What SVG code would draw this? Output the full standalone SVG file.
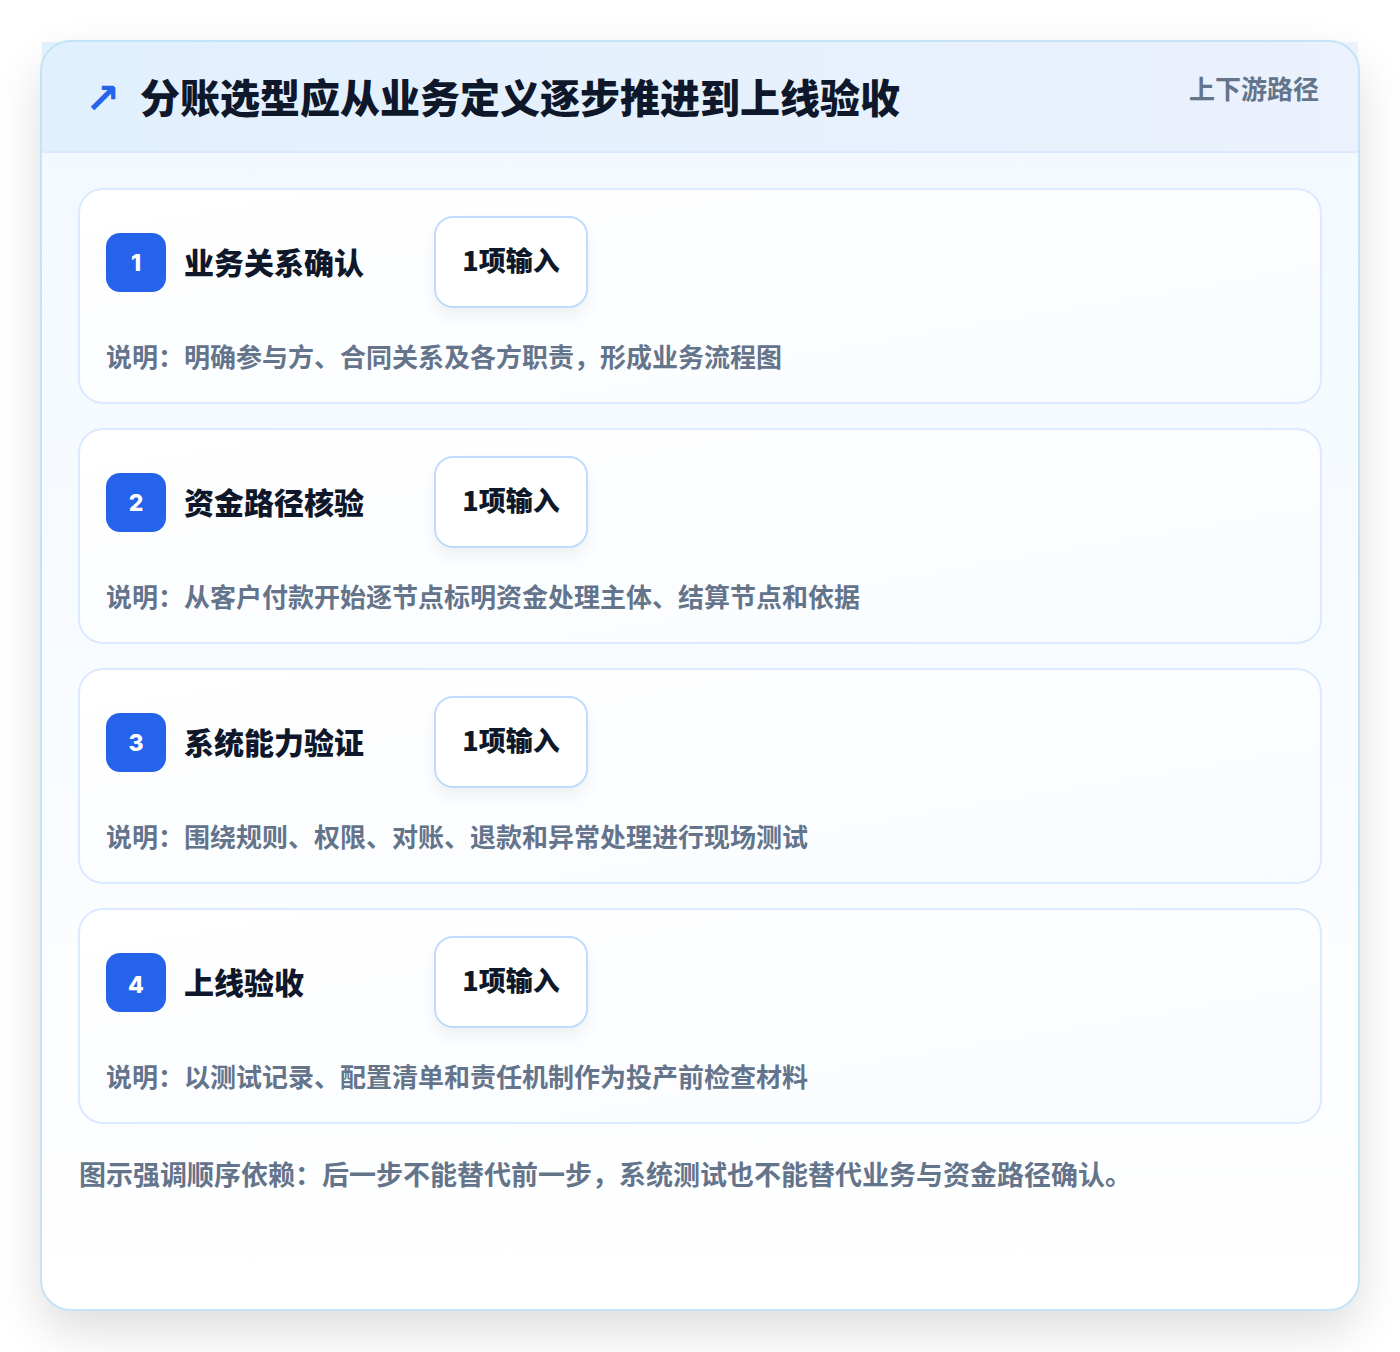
<svg xmlns="http://www.w3.org/2000/svg" width="1400" height="1352" viewBox="0 0 1400 1352">
<defs>
<style>
.t{font-family:"Noto Sans CJK SC","Noto Sans",sans-serif;font-weight:700}
.title{font-size:40px;fill:#0f172a;font-weight:900}
.tag{font-size:26px;fill:#64748b}
.stitle{font-size:30px;fill:#0f172a;font-weight:900}
.pilltxt{font-size:27px;fill:#0f172a;font-weight:900}
.desc{font-size:26px;fill:#64748b}
.foot{font-size:27px;fill:#64748b}
.num{font-family:Inter,"Liberation Sans",sans-serif;font-weight:800;font-size:23px;fill:#ffffff}
.step{fill:url(#stepg);stroke:#dbeafe;stroke-width:2}
.badge{fill:#2563eb}
.pill{fill:#ffffff;stroke:#bfdbfe;stroke-width:2}
</style>
<linearGradient id="hdr" x1="0" y1="0" x2="1" y2="0">
<stop offset="0" stop-color="#e1f0fd"/>
<stop offset="1" stop-color="#ebf1fd"/>
</linearGradient>
<linearGradient id="body" x1="0" y1="0" x2="0" y2="1">
<stop offset="0" stop-color="#f1f8ff"/>
<stop offset="1" stop-color="#ffffff"/>
</linearGradient>
<linearGradient id="stepg" x1="0" y1="0" x2="1" y2="1">
<stop offset="0" stop-color="#ffffff"/>
<stop offset="1" stop-color="#f9fcff"/>
</linearGradient>
<filter id="cardsh" x="-10%" y="-10%" width="120%" height="125%">
<feGaussianBlur in="SourceAlpha" stdDeviation="24"/>
<feOffset dy="20"/>
<feComponentTransfer><feFuncA type="linear" slope="0.14"/></feComponentTransfer>
<feMerge><feMergeNode/><feMergeNode in="SourceGraphic"/></feMerge>
</filter>
<filter id="pillsh" x="-30%" y="-30%" width="160%" height="180%">
<feGaussianBlur in="SourceAlpha" stdDeviation="8"/>
<feOffset dy="8"/>
<feComponentTransfer><feFuncA type="linear" slope="0.06"/></feComponentTransfer>
<feMerge><feMergeNode/><feMergeNode in="SourceGraphic"/></feMerge>
</filter>
</defs>
<rect width="1400" height="1352" fill="#ffffff"/>

<g id="card">
<rect x="41" y="41" width="1318" height="1269" rx="30" fill="url(#body)" filter="url(#cardsh)"/>
<rect x="42" y="42" width="1316" height="110" fill="url(#hdr)"/>
<line x1="42" y1="152" x2="1358" y2="152" stroke="#dbeafe" stroke-width="2"/>
<rect x="41" y="41" width="1318" height="1269" rx="30" fill="none" stroke="#c3e4f7" stroke-width="2"/>
</g>

<g id="header">
<text x="85" y="113" font-family="'DejaVu Sans',sans-serif" font-size="42" font-weight="700" fill="#2563eb">↗</text>
<text class="t title" x="140" y="113">分账选型应从业务定义逐步推进到上线验收</text>
<text class="t tag" x="1319" y="99" text-anchor="end">上下游路径</text>
</g>

<g id="step1">
<rect class="step" x="79" y="189" width="1242" height="214" rx="24"/>
<rect class="badge" x="106" y="233" width="60" height="59" rx="14"/>
<text class="num" x="136" y="271" text-anchor="middle">1</text>
<text class="t stitle" x="184" y="274">业务关系确认</text>
<rect class="pill" x="435" y="217" width="152" height="90" rx="18" filter="url(#pillsh)"/>
<text class="t pilltxt" x="511" y="271" text-anchor="middle">1项输入</text>
<text class="t desc" x="106" y="367">说明：明确参与方、合同关系及各方职责，形成业务流程图</text>
</g>

<g id="step2">
<rect class="step" x="79" y="429" width="1242" height="214" rx="24"/>
<rect class="badge" x="106" y="473" width="60" height="59" rx="14"/>
<text class="num" x="136" y="511" text-anchor="middle">2</text>
<text class="t stitle" x="184" y="514">资金路径核验</text>
<rect class="pill" x="435" y="457" width="152" height="90" rx="18" filter="url(#pillsh)"/>
<text class="t pilltxt" x="511" y="511" text-anchor="middle">1项输入</text>
<text class="t desc" x="106" y="607">说明：从客户付款开始逐节点标明资金处理主体、结算节点和依据</text>
</g>

<g id="step3">
<rect class="step" x="79" y="669" width="1242" height="214" rx="24"/>
<rect class="badge" x="106" y="713" width="60" height="59" rx="14"/>
<text class="num" x="136" y="751" text-anchor="middle">3</text>
<text class="t stitle" x="184" y="754">系统能力验证</text>
<rect class="pill" x="435" y="697" width="152" height="90" rx="18" filter="url(#pillsh)"/>
<text class="t pilltxt" x="511" y="751" text-anchor="middle">1项输入</text>
<text class="t desc" x="106" y="847">说明：围绕规则、权限、对账、退款和异常处理进行现场测试</text>
</g>

<g id="step4">
<rect class="step" x="79" y="909" width="1242" height="214" rx="24"/>
<rect class="badge" x="106" y="953" width="60" height="59" rx="14"/>
<text class="num" x="136" y="993" text-anchor="middle">4</text>
<text class="t stitle" x="184" y="994">上线验收</text>
<rect class="pill" x="435" y="937" width="152" height="90" rx="18" filter="url(#pillsh)"/>
<text class="t pilltxt" x="511" y="991" text-anchor="middle">1项输入</text>
<text class="t desc" x="106" y="1087">说明：以测试记录、配置清单和责任机制作为投产前检查材料</text>
</g>

<g id="connectors"></g>

<g id="footer">
<text class="t foot" x="79" y="1185">图示强调顺序依赖：后一步不能替代前一步，系统测试也不能替代业务与资金路径确认。</text>
</g>
</svg>
